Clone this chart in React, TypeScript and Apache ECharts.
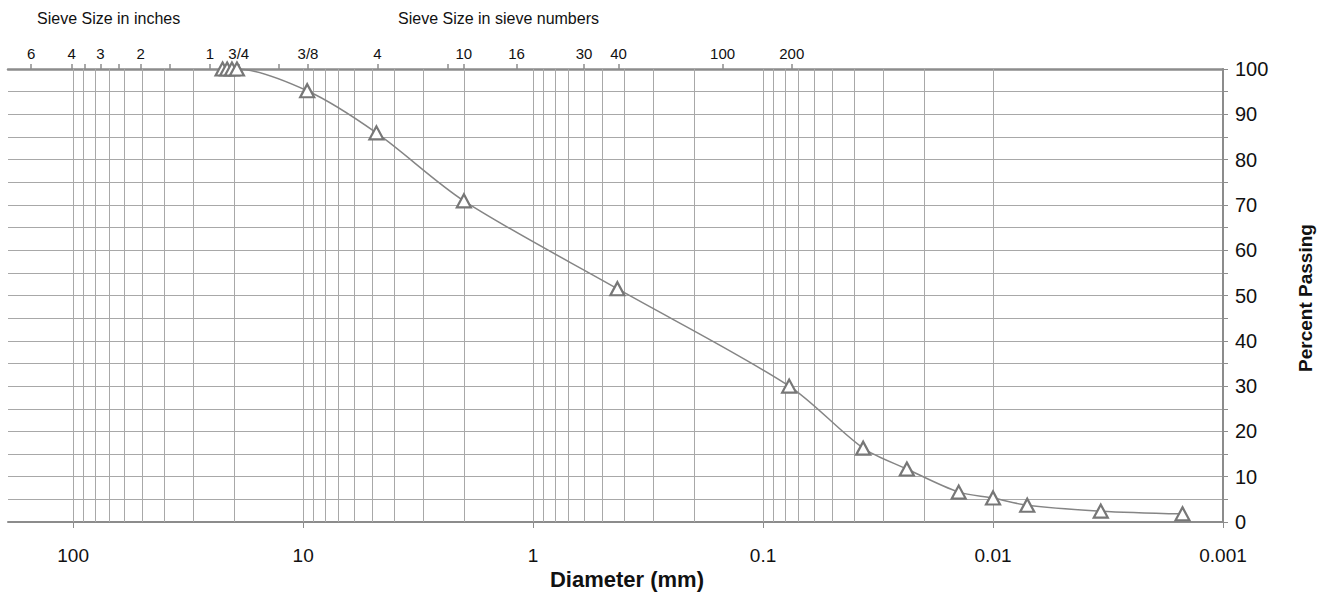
import { useEffect, useRef } from "react";
import * as echarts from "echarts";

const diameterMm = [22.4, 21.4, 20.4, 19.4, 9.6, 4.8, 2.0, 0.43, 0.077, 0.0367, 0.0237, 0.0141, 0.01, 0.0071, 0.0034, 0.0015];
const percentPassing = [100, 100, 100, 100, 95.2, 85.9, 70.9, 51.5, 30.0, 16.3, 11.7, 6.6, 5.3, 3.7, 2.4, 1.8];

// Bottom axis (diameter, mm)
const diameterTickValues = [100, 10, 1, 0.1, 0.01, 0.001];

// Top axis: sieve openings (mm) with tick marks, and the labelled ones
const sieveTickMm = [152.4, 101.6, 88.9, 76.2, 63.5, 50.8, 38.1, 25.4, 19.05, 12.7, 9.525, 4.75, 2.36, 2.0, 1.18, 0.6, 0.425, 0.15, 0.075];
const sieveLabelMm = [152.4, 101.6, 76.2, 50.8, 25.4, 19.05, 9.525, 4.75, 2.0, 1.18, 0.6, 0.425, 0.15, 0.075];
const sieveLabelText = ["6", "4", "3", "2", "1", "3/4", "3/8", "4", "10", "16", "30", "40", "100", "200"];

// Log grid: decades and multipliers for the vertical lines
const gridDecades = [0.001, 0.01, 0.1, 1, 10];
const gridMultipliers = [1, 2, 3, 4, 5, 6, 7, 8, 9];
const gridExtra = [100];

const X_MIN = 0.001;
const X_MAX = 192;

const FONT = "Liberation Sans, Arial, sans-serif";
const AXIS_GREY = "#8c8c8c";
const GRID_GREY = "#a8a8a8";

function fmtNum(v: number): string {
  return String(Number(v.toPrecision(6)));
}

export default function App() {
  const ref = useRef<HTMLDivElement>(null);

  useEffect(() => {
    if (!ref.current) return;
    const chart = echarts.init(ref.current, undefined, { renderer: "svg" });

    const vGrid: number[] = [];
    gridDecades.forEach((d) => gridMultipliers.forEach((m) => vGrid.push(Number((m * d).toPrecision(6)))));
    gridExtra.forEach((v) => vGrid.push(v));

    const option: any = {
      animation: false,
      backgroundColor: "#ffffff",
      textStyle: { fontFamily: FONT },
      grid: { left: 8, right: 101, top: 69, bottom: 70, containLabel: false },
      xAxis: [
        {
          type: "log",
          logBase: 10,
          min: X_MIN,
          max: X_MAX,
          inverse: true,
          position: "bottom",
          axisLine: { show: true, onZero: false, lineStyle: { color: AXIS_GREY, width: 2 } },
          axisTick: { show: true, customValues: diameterTickValues, length: 6, lineStyle: { color: AXIS_GREY, width: 1 } },
          axisLabel: {
            customValues: diameterTickValues,
            formatter: (v: number) => fmtNum(v),
            fontSize: 19,
            color: "#111",
            margin: 24,
            fontFamily: FONT,
          },
          splitLine: { show: false },
        },
        {
          type: "log",
          logBase: 10,
          min: X_MIN,
          max: X_MAX,
          inverse: true,
          position: "top",
          axisLine: { show: true, onZero: false, lineStyle: { color: AXIS_GREY, width: 2.5 } },
          axisTick: { show: true, customValues: sieveTickMm, length: 5, lineStyle: { color: AXIS_GREY, width: 1.5 } },
          axisLabel: {
            customValues: sieveLabelMm,
            formatter: (v: number) => {
              const i = sieveLabelMm.findIndex((s) => Math.abs(s - v) / s < 1e-6);
              return i >= 0 ? sieveLabelText[i] : "";
            },
            fontSize: 15,
            color: "#111",
            margin: 8,
            fontFamily: FONT,
          },
          splitLine: { show: false },
        },
      ],
      yAxis: {
        type: "value",
        position: "right",
        min: 0,
        max: 100,
        interval: 5,
        axisLine: { show: true, lineStyle: { color: AXIS_GREY, width: 2 } },
        axisTick: { show: true, length: 5, lineStyle: { color: AXIS_GREY, width: 1 } },
        axisLabel: {
          formatter: (v: number) => (v % 10 === 0 ? String(v) : ""),
          fontSize: 20,
          color: "#111",
          margin: 12,
          fontFamily: FONT,
        },
        splitLine: { show: true, lineStyle: { color: GRID_GREY, width: 1 } },
      },
      graphic: [
        {
          type: "text",
          style: { text: "Sieve Size in inches", x: 37, y: 18, fontSize: 16, fontFamily: FONT, fill: "#111", textVerticalAlign: "middle" },
        },
        {
          type: "text",
          style: { text: "Sieve Size in sieve numbers", x: 398, y: 18, fontSize: 16, fontFamily: FONT, fill: "#111", textVerticalAlign: "middle" },
        },
        {
          type: "text",
          style: {
            text: "Diameter (mm)",
            x: 627,
            y: 579,
            fontSize: 22,
            fontWeight: "bold",
            fontFamily: FONT,
            fill: "#111",
            textAlign: "center",
            textVerticalAlign: "middle",
          },
        },
        {
          type: "text",
          x: 1305,
          y: 298,
          rotation: Math.PI / 2,
          style: {
            text: "Percent Passing",
            x: 0,
            y: 0,
            fontSize: 19,
            fontWeight: "bold",
            fontFamily: FONT,
            fill: "#111",
            textAlign: "center",
            textVerticalAlign: "middle",
          },
        },
      ],
      series: [
        {
          type: "line",
          xAxisIndex: 0,
          yAxisIndex: 0,
          data: [],
          silent: true,
          z: 1,
          markLine: {
            silent: true,
            symbol: ["none", "none"],
            label: { show: false },
            lineStyle: { color: GRID_GREY, width: 1, type: "solid" },
            data: vGrid.map((v) => ({ xAxis: v })),
          },
        },
        {
          type: "line",
          xAxisIndex: 0,
          yAxisIndex: 0,
          z: 5,
          data: diameterMm.map((d, i) => [d, percentPassing[i]]),
          smooth: 0.3,
          symbol: "triangle",
          symbolSize: [14, 13],
          showSymbol: true,
          itemStyle: { color: "#ffffff", borderColor: "#777777", borderWidth: 2.2 },
          lineStyle: { color: "#858585", width: 1.5 },
        },
      ],
    };

    chart.setOption(option);
    return () => chart.dispose();
  }, []);

  return (
    <div
      ref={ref}
      style={{ position: "fixed", left: 0, top: 0, width: 1324, height: 592, background: "#fff" }}
    />
  );
}
